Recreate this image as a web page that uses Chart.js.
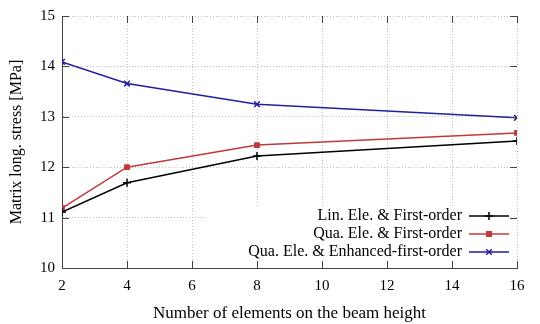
<!DOCTYPE html>
<html>
<head>
<meta charset="utf-8">
<script src="https://cdn.jsdelivr.net/npm/chart.js@4/dist/chart.umd.min.js"></script>
<style>
  html, body { margin: 0; padding: 0; background: #fff; }
  #wrap { width: 540px; height: 324px; }
</style>
</head>
<body>
<div id="wrap"><canvas id="myChart" width="540" height="324"></canvas></div>
<script>
"use strict";
var elements = [2, 4, 8, 16];
var linFirst = [11.11, 11.69, 12.22, 12.52];
var quaFirst = [11.19, 12.00, 12.44, 12.68];
var quaEnhanced = [14.09, 13.66, 13.25, 12.98];
var xTicks = [2, 4, 6, 8, 10, 12, 14, 16];
var yTicks = [10, 11, 12, 13, 14, 15];
var seriesNames = ["Lin. Ele. & First-order", "Qua. Ele. & First-order", "Qua. Ele. & Enhanced-first-order"];

var FONT = "'Liberation Serif', 'DejaVu Serif', serif";
var colors = ["#000000", "#c0393b", "#1f1fa0"];
var styles = ["cross", "rect", "crossRot"];

function toPoints(vals) {
    return elements.map(function (x, i) { return { x: x, y: vals[i] }; });
}

var datasets = [linFirst, quaFirst, quaEnhanced].map(function (vals, i) {
    return {
        label: seriesNames[i],
        data: toPoints(vals),
        borderColor: colors[i],
        backgroundColor: colors[i],
        borderWidth: 1.5,
        pointStyle: styles[i],
        pointRadius: i === 1 ? 3 : 4,
        pointBorderWidth: 1.5,
        tension: 0
    };
});

// inward ticks on all four sides + legend inside bottom right
var frame = {
    id: "frame",
    beforeDatasetsDraw: function (chart) {
        var c = chart.ctx, a = chart.chartArea;
        c.save();
        c.fillStyle = "#fff";
        c.fillRect(205, 207, a.right - 205 - 1, a.bottom - 207 - 1);
        c.restore();
    },
    afterDraw: function (chart) {
        var c = chart.ctx, a = chart.chartArea;
        var xs = chart.scales.x, ys = chart.scales.y;
        c.save();
        c.strokeStyle = "#444";
        c.lineWidth = 1;
        c.beginPath();
        xTicks.forEach(function (v) {
            var px = Math.round(xs.getPixelForValue(v)) + 0.5;
            c.moveTo(px, a.bottom); c.lineTo(px, a.bottom - 7);
            c.moveTo(px, a.top); c.lineTo(px, a.top + 7);
        });
        yTicks.forEach(function (v) {
            var py = Math.round(ys.getPixelForValue(v)) + 0.5;
            c.moveTo(a.left, py); c.lineTo(a.left + 7, py);
            c.moveTo(a.right, py); c.lineTo(a.right - 7, py);
        });
        c.stroke();

        // legend
        c.font = "16px " + FONT;
        c.textAlign = "right";
        c.textBaseline = "middle";
        datasets.forEach(function (ds, i) {
            var y = 216 + i * 18;
            c.fillStyle = "#000";
            c.fillText(ds.label, 462, y);
            c.strokeStyle = ds.borderColor;
            c.lineWidth = 1.5;
            c.beginPath();
            c.moveTo(469, y); c.lineTo(509, y);
            c.stroke();
            Chart.helpers.drawPoint(c, {
                pointStyle: ds.pointStyle,
                radius: ds.pointRadius,
                borderWidth: 1.5,
                rotation: 0
            }, 489, y);
            c.fillStyle = ds.borderColor;
            if (ds.pointStyle === "rect") {
                c.fillRect(486, y - 3, 6, 6);
            }
        });
        c.restore();
    }
};

var ctx = document.getElementById("myChart").getContext("2d");
var chart = new Chart(ctx, {
    type: "line",
    data: { datasets: datasets },
    options: {
        responsive: false,
        animation: false,
        layout: { padding: { top: 16, right: 23, left: 0, bottom: 0 } },
        plugins: { legend: { display: false }, tooltip: { enabled: false } },
        scales: {
            x: {
                type: "linear",
                min: 2, max: 16,
                afterBuildTicks: function (s) { s.ticks = xTicks.map(function (v) { return { value: v }; }); },
                afterFit: function (s) { s.height = 56; },
                grid: { color: "#c0c0c0", drawTicks: false, tickLength: 0 },
                border: { color: "#444", width: 1, dash: [1, 2] },
                ticks: { color: "#000", padding: 9, font: { family: FONT, size: 15 }, maxRotation: 0 },
                title: { display: true, text: "Number of elements on the beam height", color: "#000",
                         font: { family: FONT, size: 17 }, padding: { top: 0, bottom: 0 } }
            },
            y: {
                min: 10, max: 15,
                afterBuildTicks: function (s) { s.ticks = yTicks.map(function (v) { return { value: v }; }); },
                afterFit: function (s) { s.width = 62; },
                grid: { color: "#c0c0c0", drawTicks: false, tickLength: 0 },
                border: { color: "#444", width: 1, dash: [1, 2] },
                ticks: { color: "#000", padding: 7, font: { family: FONT, size: 15 } },
                title: { display: true, text: "Matrix long. stress [MPa]", color: "#000",
                         font: { family: FONT, size: 16 }, padding: { top: 7, bottom: 0 } }
            }
        }
    },
    plugins: [frame]
});
</script>
</body>
</html>
